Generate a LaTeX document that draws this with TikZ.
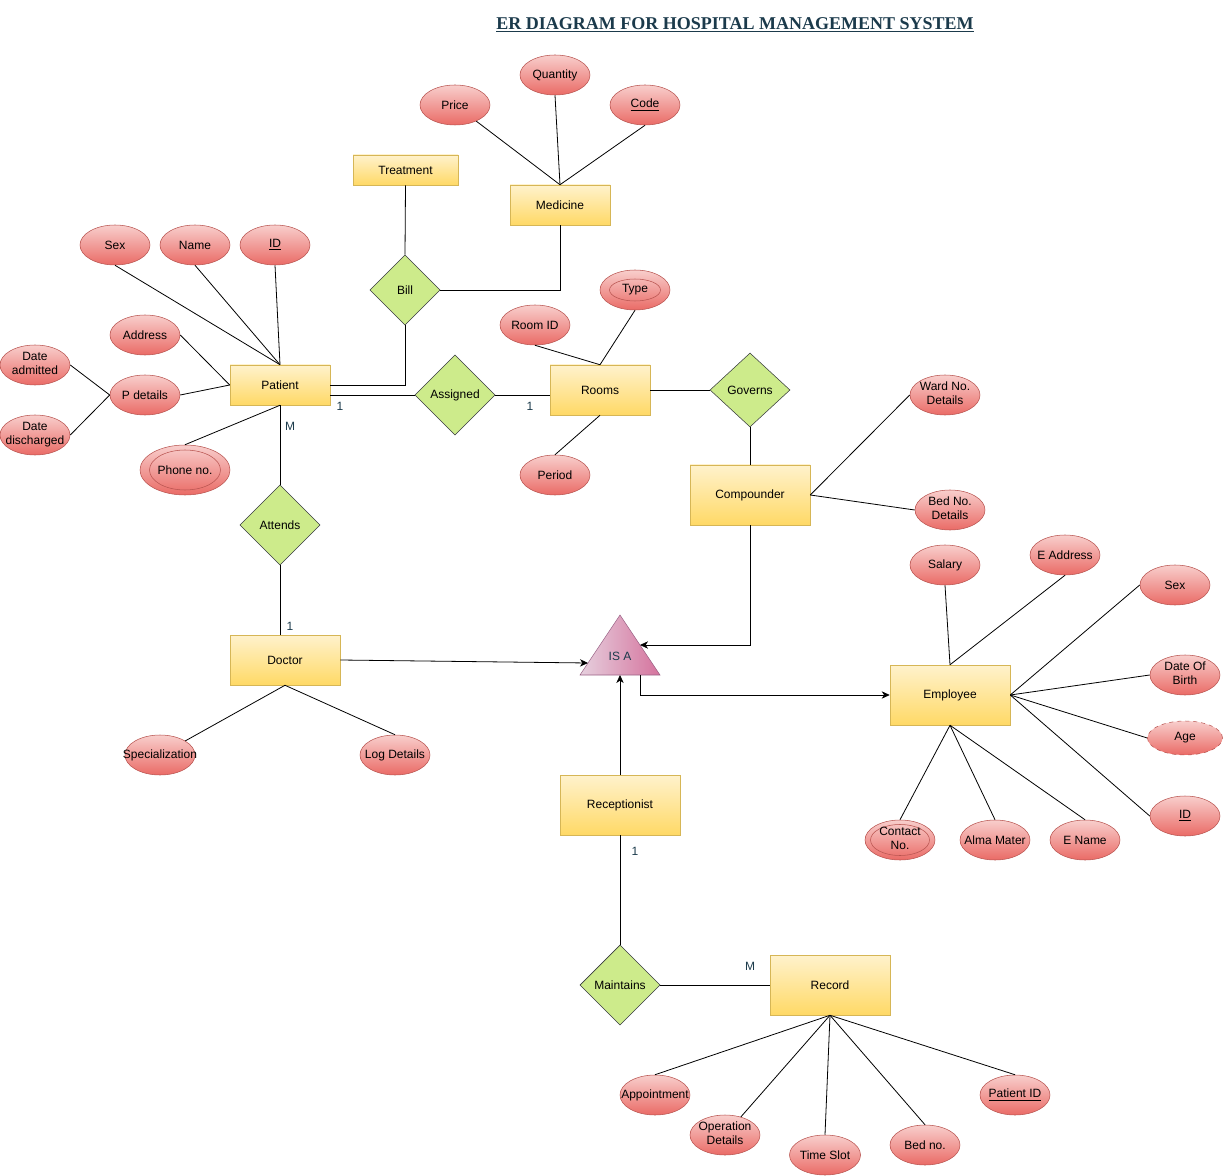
\documentclass[tikz,border=0pt]{standalone}
\usepackage{fontspec}
\setmainfont{Liberation Sans}
\newfontfamily\titlefont{Liberation Serif}
\usetikzlibrary{shapes.geometric,arrows.meta}

\definecolor{attrtop}{HTML}{F8CECC}
\definecolor{attrbot}{HTML}{EA6B66}
\definecolor{attrline}{HTML}{B85450}
\definecolor{enttop}{HTML}{FFF2CC}
\definecolor{entbot}{HTML}{FFD966}
\definecolor{entline}{HTML}{D6B656}
\definecolor{relfill}{HTML}{CDEB8B}
\definecolor{relline}{HTML}{36393D}
\definecolor{isatop}{HTML}{E6D0DE}
\definecolor{isabot}{HTML}{D5739D}
\definecolor{isaline}{HTML}{996185}
\definecolor{slate}{HTML}{1B3A4B}

\newcommand{\lblfont}{\fontsize{9}{10.5}\selectfont}
% labels that may overhang their ellipse without widening it
\newcommand{\fitone}[1]{\makebox[0pt]{#1}}
\newcommand{\fittwo}[2]{\makebox[0pt]{\begin{tabular}{@{}c@{}}#1\\#2\end{tabular}}}

\tikzset{
  attr/.style={ellipse, draw=attrline, top color=attrtop, bottom color=attrbot,
    minimum width=52.5pt, minimum height=30pt, inner sep=0pt, align=center,
    font=\lblfont, text=black},
  multi/.style 2 args={path picture={\draw[attrline]
    (path picture bounding box.center) ellipse [x radius=#1*0.75pt, y radius=#2*0.75pt];}},
  ent/.style 2 args={rectangle, draw=entline, top color=enttop, bottom color=entbot,
    minimum width=#1*0.75pt, minimum height=#2*0.75pt, inner sep=0pt,
    font=\lblfont, text=black},
  rel/.style 2 args={diamond, draw=relline, fill=relfill,
    minimum width=#1*0.75pt, minimum height=#2*0.75pt, inner sep=0pt,
    font=\lblfont, text=black},
  link/.style={draw=black, line width=0.6pt},
  arrowlink/.style={link, -{Stealth[length=6pt, width=5.5pt, inset=1.8pt]}},
  card/.style={font=\lblfont, text=slate, inner sep=0pt}
}

\begin{document}
\begin{tikzpicture}[x=0.75pt, y=-0.75pt]
\useasboundingbox (0,0) rectangle (1224,1176);

% title
\node[font=\titlefont\bfseries\fontsize{13.5}{16}\selectfont, text=slate, inner sep=0pt]
  (title) at (735,25) {\underline{ER DIAGRAM FOR HOSPITAL MANAGEMENT SYSTEM}};

% entities
\node[ent={105}{30}] (Treatment) at (405.5,170) {Treatment};
\node[ent={100}{40}] (Medicine) at (560,205) {Medicine};
\node[ent={100}{40}] (Patient) at (280,385) {Patient};
\node[ent={100}{50}] (Rooms) at (600,390) {Rooms};
\node[ent={120}{60}] (Compounder) at (750,495) {Compounder};
\node[ent={110}{50}] (Doctor) at (285,660) {Doctor};
\node[ent={120}{60}] (Employee) at (950,695) {Employee};
\node[ent={120}{60}] (Receptionist) at (620,805) {Receptionist};
\node[ent={120}{60}] (Record) at (830,985) {Record};

% relationships
\node[rel={70}{70}] (Bill) at (405,290) {Bill};
\node[rel={80}{80}] (Assigned) at (455,395) {Assigned};
\node[rel={80}{74}] (Governs) at (750,390) {Governs};
\node[rel={80}{80}] (Attends) at (280,525) {Attends};
\node[rel={80}{80}] (Maintains) at (620,985) {Maintains};

% specialisation triangle
\coordinate (isaApex) at (620,615);
\coordinate (isaBL) at (580,675);
\coordinate (isaBR) at (660,675);
\path[draw=isaline, left color=isatop, right color=isabot]
  (isaApex) -- (isaBR) -- (isaBL) -- cycle;
\node[card] (isa) at (620,656) {IS A};
\coordinate (isaW) at (588,663);
\coordinate (isaE) at (640,645);
\coordinate (isaS) at (620,675);
\coordinate (isaSE) at (640,675);

% attributes: medicine
\node[attr] (Quantity) at (555,75) {Quantity};
\node[attr] (Price) at (455,105) {Price};
\node[attr] (Code) at (645,105) {\underline{Code}};

% attributes: patient
\node[attr] (PSex) at (115,245) {Sex};
\node[attr] (PName) at (195,245) {Name};
\node[attr] (PID) at (275,245) {\underline{ID}};
\node[attr] (Address) at (145,335) {Address};
\node[attr] (DateAdm) at (35,365) {\fittwo{Date}{admitted}};
\node[attr] (PDetails) at (145,395) {P details};
\node[attr] (DateDis) at (35,435) {\fittwo{Date}{discharged}};
\node[attr, minimum width=67.5pt, minimum height=37.5pt, multi={35.5}{20}] (Phone) at (185,470) {Phone no.};

% attributes: rooms
\node[attr] (RoomID) at (535,325) {Room ID};
\node[attr, multi={25.5}{11}] (Type) at (635,290) {Type};
\node[attr] (Period) at (555,475) {Period};

% attributes: compounder
\node[attr] (Ward) at (945,395) {\fittwo{Ward No.}{Details}};
\node[attr] (BedDet) at (950,510) {\fittwo{Bed No.}{Details}};

% attributes: employee
\node[attr] (Salary) at (945,565) {Salary};
\node[attr] (EAddr) at (1065,555) {\fitone{E Address}};
\node[attr] (ESex) at (1175,585) {Sex};
\node[attr] (DOB) at (1185,675) {\fittwo{Date Of}{Birth}};
\node[attr, dashed, minimum width=56.25pt, minimum height=25.5pt] (Age) at (1185,738) {Age};
\node[attr] (EID) at (1185,816) {\underline{ID}};
\node[attr, multi={29.5}{15.5}] (Contact) at (900,840) {\fittwo{Contact}{No.}};
\node[attr] (Alma) at (995,840) {\fitone{Alma Mater}};
\node[attr] (EName) at (1085,840) {E Name};

% attributes: doctor
\node[attr] (Spec) at (160,755) {\fitone{Specialization}};
\node[attr] (LogDet) at (395,755) {\fitone{Log Details}};

% attributes: record
\node[attr] (Appt) at (655,1095) {\fitone{Appointment}};
\node[attr] (OpDet) at (725,1135) {\fittwo{Operation}{Details}};
\node[attr] (TimeSlot) at (825,1155) {Time Slot};
\node[attr] (BedNo) at (925,1145) {Bed no.};
\node[attr] (PatID) at (1015,1095) {\fitone{\underline{Patient ID}}};

% medicine attribute links
\draw[link] (Price) -- (Medicine.north);
\draw[link] (Quantity.south) -- (Medicine.north);
\draw[link] (Code.south) -- (Medicine.north);

% bill
\draw[link] (Treatment.south) -- (Bill.north);
\draw[link] (Bill.east) -| (Medicine.south);
\draw[link] (Bill.south) |- (Patient.east);

% patient attribute links
\draw[link] (PSex.south) -- (Patient.north);
\draw[link] (PName.south) -- (Patient.north);
\draw[link] (PID.south) -- (Patient.north);
\draw[link] (Address.east) -- (Patient.west);
\draw[link] (PDetails.east) -- (Patient.west);
\draw[link] (DateAdm.east) -- (PDetails.west);
\draw[link] (DateDis.east) -- (PDetails.west);
\draw[link] (Phone.north) -- (Patient.south);

% assigned
\coordinate (patLow) at ([yshift=-7.5pt]Patient.east);
\draw[link] (patLow) -- (Assigned.west);
\draw[link] (Assigned.east) -- (Assigned.east -| Rooms.west);
\node[card] (c1) at (340,406) {1};
\node[card] (c2) at (530,406) {1};

% rooms attribute links
\draw[link] (RoomID.south) -- (Rooms.north);
\draw[link] (Type.south) -- (Rooms.north);
\draw[link] (Period.north) -- (Rooms.south);

% governs
\draw[link] (Rooms.east) -- (Governs.west);
\draw[link] (Governs.south) -- (Compounder.north);
\draw[link] (Compounder.east) -- (Ward.west);
\draw[link] (Compounder.east) -- (BedDet.west);

% attends
\draw[link] (Patient.south) -- (Attends.north);
\draw[link] (Attends.south) -- (Attends.south |- Doctor.north);
\node[card] (cM1) at (290,426) {M};
\node[card] (c3) at (290,626) {1};
\draw[link] (Doctor.south) -- (Spec);
\draw[link] (Doctor.south) -- (LogDet.north);

% generalisation
\draw[arrowlink] (Doctor.east) -- (isaW);
\draw[arrowlink] (Compounder.south) |- (isaE);
\draw[arrowlink] (isaSE) |- (Employee.west);
\draw[arrowlink] (Receptionist.north) -- (isaS);

% employee attribute links
\draw[link] (Salary.south) -- (Employee.north);
\draw[link] (EAddr.south) -- (Employee.north);
\draw[link] (ESex.west) -- (Employee.east);
\draw[link] (DOB.west) -- (Employee.east);
\draw[link] (Age.west) -- (Employee.east);
\draw[link] (EID.west) -- (Employee.east);
\draw[link] (Contact.north) -- (Employee.south);
\draw[link] (Alma.north) -- (Employee.south);
\draw[link] (EName.north) -- (Employee.south);

% maintains
\draw[link] (Receptionist.south) -- (Maintains.north);
\draw[link] (Maintains.east) -- (Record.west);
\node[card] (c4) at (635,851) {1};
\node[card] (cM2) at (750,966) {M};

% record attribute links
\draw[link] (Record.south) -- (Appt.north);
\draw[link] (Record.south) -- (OpDet);
\draw[link] (Record.south) -- (TimeSlot.north);
\draw[link] (Record.south) -- (BedNo.north);
\draw[link] (Record.south) -- (PatID.north);
\end{tikzpicture}
\end{document}
